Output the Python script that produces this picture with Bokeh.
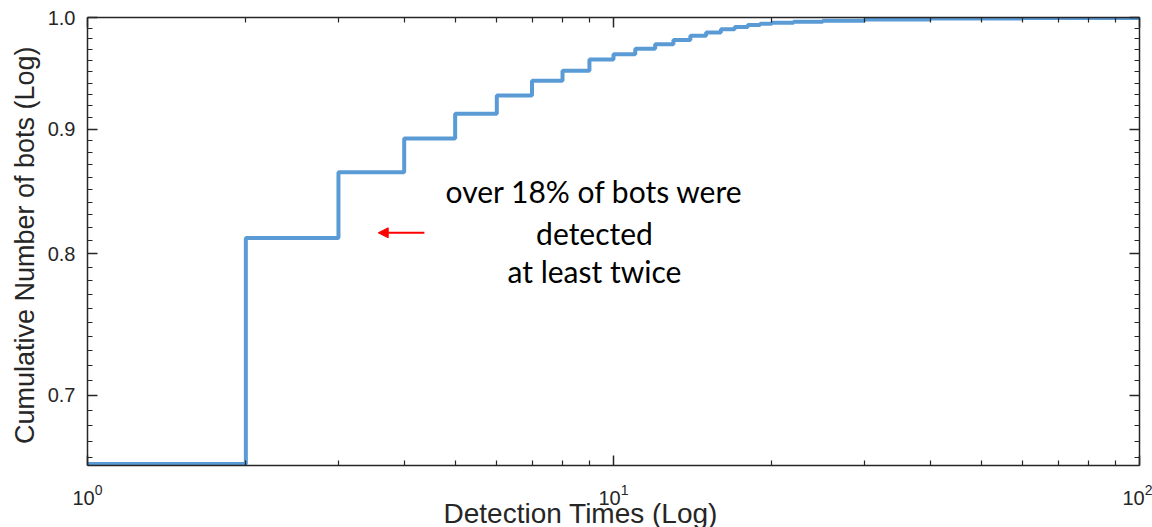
from bokeh.plotting import figure
from bokeh.models import LogAxis, FixedTicker, Label, Arrow, NormalHead, Range1d, CustomJSTickFormatter, ColumnDataSource, Title
from bokeh.embed import file_html
from bokeh.resources import INLINE

# ---- data ----
detection_times = [1, 2, 3, 4, 5, 6, 7, 8, 9, 10, 11, 12, 13, 14, 15, 16, 17, 18, 19, 20, 22, 25, 30, 40, 60, 100]
cumulative_frac = [0.656, 0.812, 0.864, 0.892, 0.913, 0.929, 0.942, 0.951, 0.961, 0.966, 0.971, 0.975,
                   0.979, 0.983, 0.986, 0.989, 0.991, 0.993, 0.994, 0.995, 0.996, 0.997, 0.998, 0.999,
                   0.9995, 1.0]

x_major_ticks = [1, 10, 100]
x_minor_ticks = [2, 3, 4, 5, 6, 7, 8, 9, 20, 30, 40, 50, 60, 70, 80, 90]
y_major_ticks = [0.7, 0.8, 0.9, 1.0]
y_minor_ticks = [0.66, 0.67, 0.68, 0.69, 0.71, 0.72, 0.73, 0.74, 0.75, 0.76, 0.77, 0.78, 0.79,
                 0.81, 0.82, 0.83, 0.84, 0.85, 0.86, 0.87, 0.88, 0.89,
                 0.91, 0.92, 0.93, 0.94, 0.95, 0.96, 0.97, 0.98, 0.99]

annotation_lines = ["over 18% of bots were", "detected", "at least twice"]
annotation_x = 9.2
annotation_y = [0.849, 0.816, 0.787]
arrow_start = (4.37, 0.816)
arrow_end = (3.57, 0.816)

x_label = "Detection Times (Log)"
y_label = "Cumulative  Number of bots (Log)"

AXC = "#262626"
BLUE = "#5B9BD5"

p = figure(frame_width=1052, frame_height=448, x_axis_type="log", y_axis_type="log",
           x_range=Range1d(1, 100), y_range=Range1d(0.655, 1.0),
           output_backend="svg", toolbar_location=None,
           min_border_left=87, min_border_right=13, min_border_top=17, min_border_bottom=62)
p.outline_line_color = None
p.grid.visible = False
p.background_fill_color = "white"
p.border_fill_color = "white"

src = ColumnDataSource(dict(x=detection_times, y=cumulative_frac))
p.step("x", "y", source=src, mode="after", line_width=4, line_color=BLUE)


def style(ax, ticks, minors, show_labels):
    ax.ticker = FixedTicker(ticks=ticks, minor_ticks=minors)
    ax.axis_line_color = AXC
    ax.axis_line_width = 1.5
    ax.major_tick_line_color = AXC
    ax.minor_tick_line_color = AXC
    ax.major_tick_line_width = 1.5
    ax.minor_tick_line_width = 1.2
    ax.major_tick_in = 10
    ax.major_tick_out = 0
    ax.minor_tick_in = 5
    ax.minor_tick_out = 0
    ax.major_label_text_font = "Liberation Sans"
    ax.major_label_text_font_size = "20px"
    ax.major_label_text_color = AXC
    if not show_labels:
        ax.formatter = CustomJSTickFormatter(code="return ''")
        ax.major_label_standoff = 0
        ax.major_label_text_font_size = "0px"


xa = p.xaxis[0]
ya = p.yaxis[0]
style(xa, x_major_ticks, x_minor_ticks, True)
style(ya, y_major_ticks, y_minor_ticks, True)
ya.formatter = CustomJSTickFormatter(code="return tick.toFixed(1)")
xa.major_label_standoff = 18
ya.major_label_standoff = 12
ya.axis_label = y_label
ya.axis_label_standoff = 5
ya.axis_label_text_font = "Liberation Sans"
ya.axis_label_text_font_style = "normal"
ya.axis_label_text_color = AXC
ya.axis_label_text_font_size = "27px"

# x axis label, shifted left of the frame centre as in the original
p.add_layout(Title(text=x_label, align="left", offset=356, standoff=-24,
                   text_font="Liberation Sans", text_font_size="28px", text_font_style="normal",
                   text_color=AXC), "below")

top = LogAxis()
right = LogAxis()
style(top, x_major_ticks, x_minor_ticks, False)
style(right, y_major_ticks, y_minor_ticks, False)
p.add_layout(top, "above")
p.add_layout(right, "right")

for line, yy in zip(annotation_lines, annotation_y):
    p.add_layout(Label(x=annotation_x, y=yy, text=line, text_font="Lato", text_font_size="30px",
                       text_color="black", text_align="center", text_baseline="middle"))

p.add_layout(Arrow(x_start=arrow_start[0], y_start=arrow_start[1], x_end=arrow_end[0], y_end=arrow_end[1],
                   line_color="#FF0000", line_width=2,
                   end=NormalHead(size=10, fill_color="#FF0000", line_color="#FF0000")))

open("out.html", "w").write(file_html(p, INLINE))
